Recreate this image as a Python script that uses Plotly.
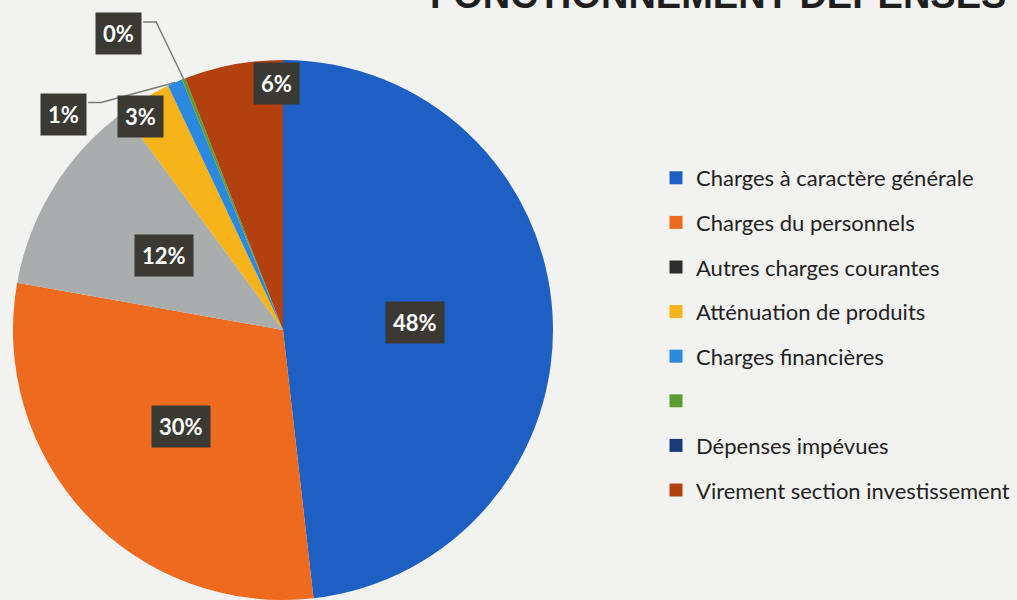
import math
import plotly.graph_objects as go

# Data
categories = [
    "Charges à caractère générale",
    "Charges du personnels",
    "Autres charges courantes",
    "Atténuation de produits",
    "Charges financières",
    " ",
    "Dépenses impévues",
    "Virement section investissement",
]
values = [48.2, 29.6, 12.1, 3.1, 0.9, 0.2, 0.0, 5.9]
colors = ["#1e5fc4", "#ee6a1f", "#a9adad", "#f6b31a", "#2a88de", "#5a9e32", "#1b3a7a", "#b3410f"]
legend_marker_colors = ["#1e5fc4", "#ee6a1f", "#2e2e2e", "#f6b31a", "#2a88de", "#5a9e32", "#1b3a7a", "#b3410f"]

W, H = 1017, 600
CX, CY, R = 283, 330, 270  # pie centre / radius in px

# label placement: (radius factor, angle shift deg) per slice, None = no label
label_place = [(0.49, 0), (0.52, 0), (0.52, 0), (0.95, -3), (1.14, -22), (1.255, -7.5), None, (0.915, 9)]
leaders = {4: True, 5: True}

fig = go.Figure()

fig.add_trace(go.Pie(
    labels=categories,
    values=values,
    sort=False,
    direction="clockwise",
    rotation=0,
    marker=dict(colors=colors, line=dict(width=0)),
    textinfo="none",
    hoverinfo="label+percent",
    showlegend=False,
    domain=dict(x=[max(0, (CX - R) / W), (CX + R) / W],
                y=[max(0, 1 - (CY + R) / H), min(1, 1 - (CY - R) / H)]),
))

# legend built from dummy traces so the spacing matches
for name, col in zip(categories, legend_marker_colors):
    fig.add_trace(go.Scatter(
        x=[None], y=[None], mode="markers", name=name, legendgroup=name,
        marker=dict(symbol="square", size=13, color=col),
    ))

total = sum(values)
cum = 0.0
shapes = []
annotations = []
for i, v in enumerate(values):
    start = cum / total * 360
    cum += v
    end = cum / total * 360
    mid = (start + end) / 2
    place = label_place[i]
    if place is None:
        continue
    k, shift = place
    a = math.radians(mid + shift)
    px = CX + k * R * math.sin(a)
    py = CY - k * R * math.cos(a)
    pct = round(v / total * 100)
    annotations.append(dict(
        x=px / W, y=1 - py / H, xref="paper", yref="paper",
        xanchor="center", yanchor="middle",
        text=f"<b>{pct}%</b>", showarrow=False,
        font=dict(family="Lato, Open Sans, sans-serif", size=22, color="white"),
        bgcolor="#3a3934", borderpad=7,
    ))
    if i in leaders:
        am = math.radians(mid)
        rx = CX + R * math.sin(am)
        ry = CY - R * math.cos(am)
        bx = px + 25
        by = py - 12
        path = f"M {bx/W},{1-by/H} L {(bx+13)/W},{1-by/H} L {rx/W},{1-ry/H}"
        shapes.append(dict(type="path", path=path, xref="paper", yref="paper",
                           line=dict(color="#7a7a7a", width=1.5), layer="below"))

# cropped page title at top
annotations.append(dict(
    x=1008 / W, y=1 + 28 / H, xref="paper", yref="paper", xanchor="right", yanchor="top",
    text="<b>FONCTIONNEMENT DEPENSES</b>", showarrow=False,
    font=dict(family="Liberation Sans, Arial, sans-serif", size=38, color="#1e1e1e"),
))

fig.update_layout(
    width=W, height=H,
    paper_bgcolor="#f2f2f0",
    plot_bgcolor="rgba(0,0,0,0)",
    margin=dict(l=0, r=0, t=0, b=0, autoexpand=False),
    xaxis=dict(visible=False),
    yaxis=dict(visible=False),
    showlegend=True,
    legend=dict(
        x=656 / W, y=1 - 157 / H, xanchor="left", yanchor="top",
        font=dict(family="Lato, Open Sans, sans-serif", size=22, color="#222222"),
        bgcolor="rgba(0,0,0,0)",
        tracegroupgap=13,
        itemwidth=30,
    ),
    shapes=shapes,
    annotations=annotations,
)

fig.write_html(
    "out.html",
    config={"displayModeBar": False, "responsive": False},
    post_script="document.documentElement.style.overflow='hidden';"
                "document.body.style.overflow='hidden';document.body.style.margin='0';",
)
